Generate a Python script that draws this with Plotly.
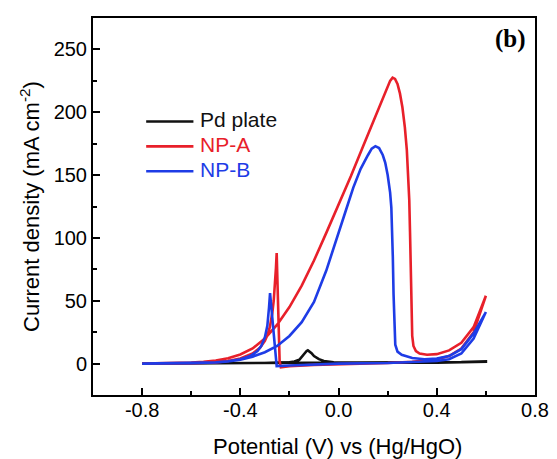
import plotly.graph_objects as go

# ---------------- data ----------------
# Pd plate
pd_fwd_v = [-0.80, -0.60, -0.40, -0.20, 0.00, 0.20, 0.40, 0.50, 0.60]
pd_fwd_j = [0.0, 0.1, 0.3, 0.5, 0.6, 0.7, 0.9, 1.2, 1.8]
pd_rev_v = [0.60, 0.40, 0.20, 0.00, -0.02, -0.04, -0.06, -0.08, -0.10, -0.11, -0.12, -0.125,
            -0.13, -0.14, -0.15, -0.16, -0.18, -0.20, -0.30, -0.50, -0.80]
pd_rev_j = [1.5, 0.8, 0.6, 0.8, 1.0, 1.4, 2.0, 3.5, 6.0, 8.3, 10.0, 10.5,
            10.0, 7.5, 5.0, 3.0, 1.6, 1.0, 0.5, 0.2, 0.0]

# NP-A
npa_fwd_v = [-0.80, -0.70, -0.60, -0.55, -0.50, -0.45, -0.40, -0.35, -0.30, -0.25,
             -0.20, -0.15, -0.10, -0.05, 0.00, 0.05, 0.10, 0.15, 0.18, 0.20, 0.21, 0.22,
             0.23, 0.24, 0.25, 0.26, 0.27, 0.278, 0.284, 0.288, 0.291, 0.294, 0.297, 0.30,
             0.305, 0.315, 0.33, 0.36, 0.40, 0.45, 0.50, 0.55, 0.60]
npa_fwd_j = [0.0, 0.3, 0.8, 1.5, 2.5, 4.3, 7.2, 12.0, 20.0, 31.0,
             45.0, 62.0, 82.0, 104.0, 126.0, 149.0, 173.0, 197.0, 212.0, 221.0, 225.0, 227.5,
             226.5, 222.5, 215.0, 204.0, 188.0, 170.0, 150.0, 130.0, 105.0, 70.0, 40.0, 22.0,
             14.0, 10.0, 8.0, 7.0, 7.5, 10.5, 16.5, 29.0, 54.0]
npa_rev_v = [0.60, 0.55, 0.50, 0.45, 0.40, 0.35, 0.30, 0.20, 0.10, 0.00, -0.10, -0.20, -0.235,
             -0.24, -0.245, -0.25, -0.252, -0.255, -0.259, -0.264, -0.27, -0.28, -0.29, -0.30,
             -0.32, -0.35, -0.40, -0.45, -0.50, -0.60, -0.80]
npa_rev_j = [54.0, 25.0, 12.0, 6.0, 3.5, 2.5, 1.5, 0.5, 0.0, -0.3, -1.0, -2.0, -3.0,
             2.0, 40.0, 80.0, 88.0, 76.0, 62.0, 50.0, 40.0, 29.0, 22.5, 18.0,
             12.5, 8.0, 4.0, 2.0, 1.0, 0.4, 0.0]

# NP-B
npb_fwd_v = [-0.80, -0.60, -0.50, -0.45, -0.40, -0.35, -0.30, -0.25, -0.20, -0.15, -0.10, -0.05,
             0.00, 0.03, 0.06, 0.09, 0.12, 0.135, 0.15, 0.165, 0.18, 0.19, 0.20, 0.21, 0.215,
             0.218, 0.221, 0.224, 0.227, 0.231, 0.24, 0.257, 0.30, 0.35, 0.40, 0.45, 0.50,
             0.55, 0.60]
npb_fwd_j = [0.0, 0.3, 1.0, 1.6, 3.0, 5.5, 9.0, 14.0, 22.0, 33.0, 49.0, 74.0,
             103.0, 122.0, 140.0, 155.0, 166.0, 171.0, 173.0, 171.5, 166.0, 160.0, 150.0, 136.0, 124.0,
             110.0, 85.0, 55.0, 30.0, 15.0, 9.5, 7.0, 4.5, 3.5, 4.0, 6.0, 11.5,
             24.0, 41.0]
npb_rev_v = [0.60, 0.55, 0.50, 0.45, 0.40, 0.30, 0.20, 0.00, -0.10, -0.20, -0.252,
             -0.26, -0.27, -0.279, -0.283, -0.29, -0.30, -0.315, -0.33, -0.36, -0.40, -0.45,
             -0.50, -0.60, -0.80]
npb_rev_j = [41.0, 20.0, 8.0, 3.5, 2.0, 1.0, 0.5, 0.0, -0.5, -1.5, -2.0,
             15.0, 35.0, 56.0, 45.0, 30.0, 21.0, 14.0, 10.0, 6.0, 3.5, 1.8,
             1.0, 0.4, 0.0]

series_names = ["Pd plate", "NP-A", "NP-B"]
series_colors = ["#111111", "#E8202A", "#1E3CE6"]

x_tickvals = [-0.8, -0.4, 0.0, 0.4, 0.8]
x_ticktext = ["-0.8", "-0.4", "0.0", "0.4", "0.8"]
y_tickvals = [0, 50, 100, 150, 200, 250]
y_ticktext = ["0", "50", "100", "150", "200", "250"]

# ---------------- figure ----------------
FONT = "Liberation Sans, Arial, sans-serif"
fig = go.Figure()

series_x = [pd_fwd_v + pd_rev_v, npa_fwd_v + npa_rev_v, npb_fwd_v + npb_rev_v]
series_y = [pd_fwd_j + pd_rev_j, npa_fwd_j + npa_rev_j, npb_fwd_j + npb_rev_j]
for name, xv, yv, col in zip(series_names, series_x, series_y, series_colors):
    fig.add_trace(go.Scatter(x=xv, y=yv, mode="lines", name=name,
                             line=dict(color=col, width=2.6), showlegend=False))

axis_common = dict(
    showline=True, linecolor="black", linewidth=2, mirror=True,
    ticks="inside", ticklen=7, tickwidth=2, tickcolor="black",
    showgrid=False, zeroline=False,
    tickfont=dict(family=FONT, size=20, color="black"),
)

fig.update_xaxes(
    range=[-1.0, 0.8], tickvals=x_tickvals, ticktext=x_ticktext,
    minor=dict(dtick=0.2, tick0=-0.8, ticks="inside", ticklen=4, tickwidth=2, tickcolor="black"),
    ticklabelstandoff=-4,
    **axis_common,
)
fig.update_yaxes(
    range=[-25, 275], tickvals=y_tickvals, ticktext=y_ticktext,
    minor=dict(dtick=25, tick0=0, ticks="inside", ticklen=4, tickwidth=2, tickcolor="black"),
    title=dict(text="Current density (mA cm<sup>-2</sup>)",
               font=dict(family=FONT, size=22, color="black"), standoff=8),
    **axis_common,
)

# x-axis title
fig.add_annotation(
    text="Potential (V) vs (Hg/HgO)", xref="paper", yref="paper",
    x=0.5535, y=-0.137, xanchor="center", yanchor="middle", showarrow=False,
    font=dict(family=FONT, size=22, color="black"),
)
# panel label
fig.add_annotation(
    text="<b>(b)</b>", xref="paper", yref="paper",
    x=0.984, y=0.9446, xanchor="right", yanchor="middle", showarrow=False,
    font=dict(family="Liberation Serif, Times New Roman, serif", size=25, color="black"),
)

# legend (line sample + coloured label)
leg_y = [0.7256, 0.6596, 0.5937]
for name, col, ly in zip(series_names, series_colors, leg_y):
    fig.add_shape(type="line", xref="paper", yref="paper",
                  x0=0.1203, x1=0.2272, y0=ly, y1=ly,
                  line=dict(color=col, width=2.6))
    fig.add_annotation(text=name, xref="paper", yref="paper",
                       x=0.2385, y=ly + 0.004, xanchor="left", yanchor="middle",
                       showarrow=False,
                       font=dict(family=FONT, size=21, color=col))

# the page body has an 8px margin: shift the figure so the plot lands in place
fig.update_layout(
    width=549, height=451,
    margin=dict(l=85, r=15, t=8, b=64),
    paper_bgcolor="white", plot_bgcolor="white",
    showlegend=False,
)

fig.write_html("out.html")
